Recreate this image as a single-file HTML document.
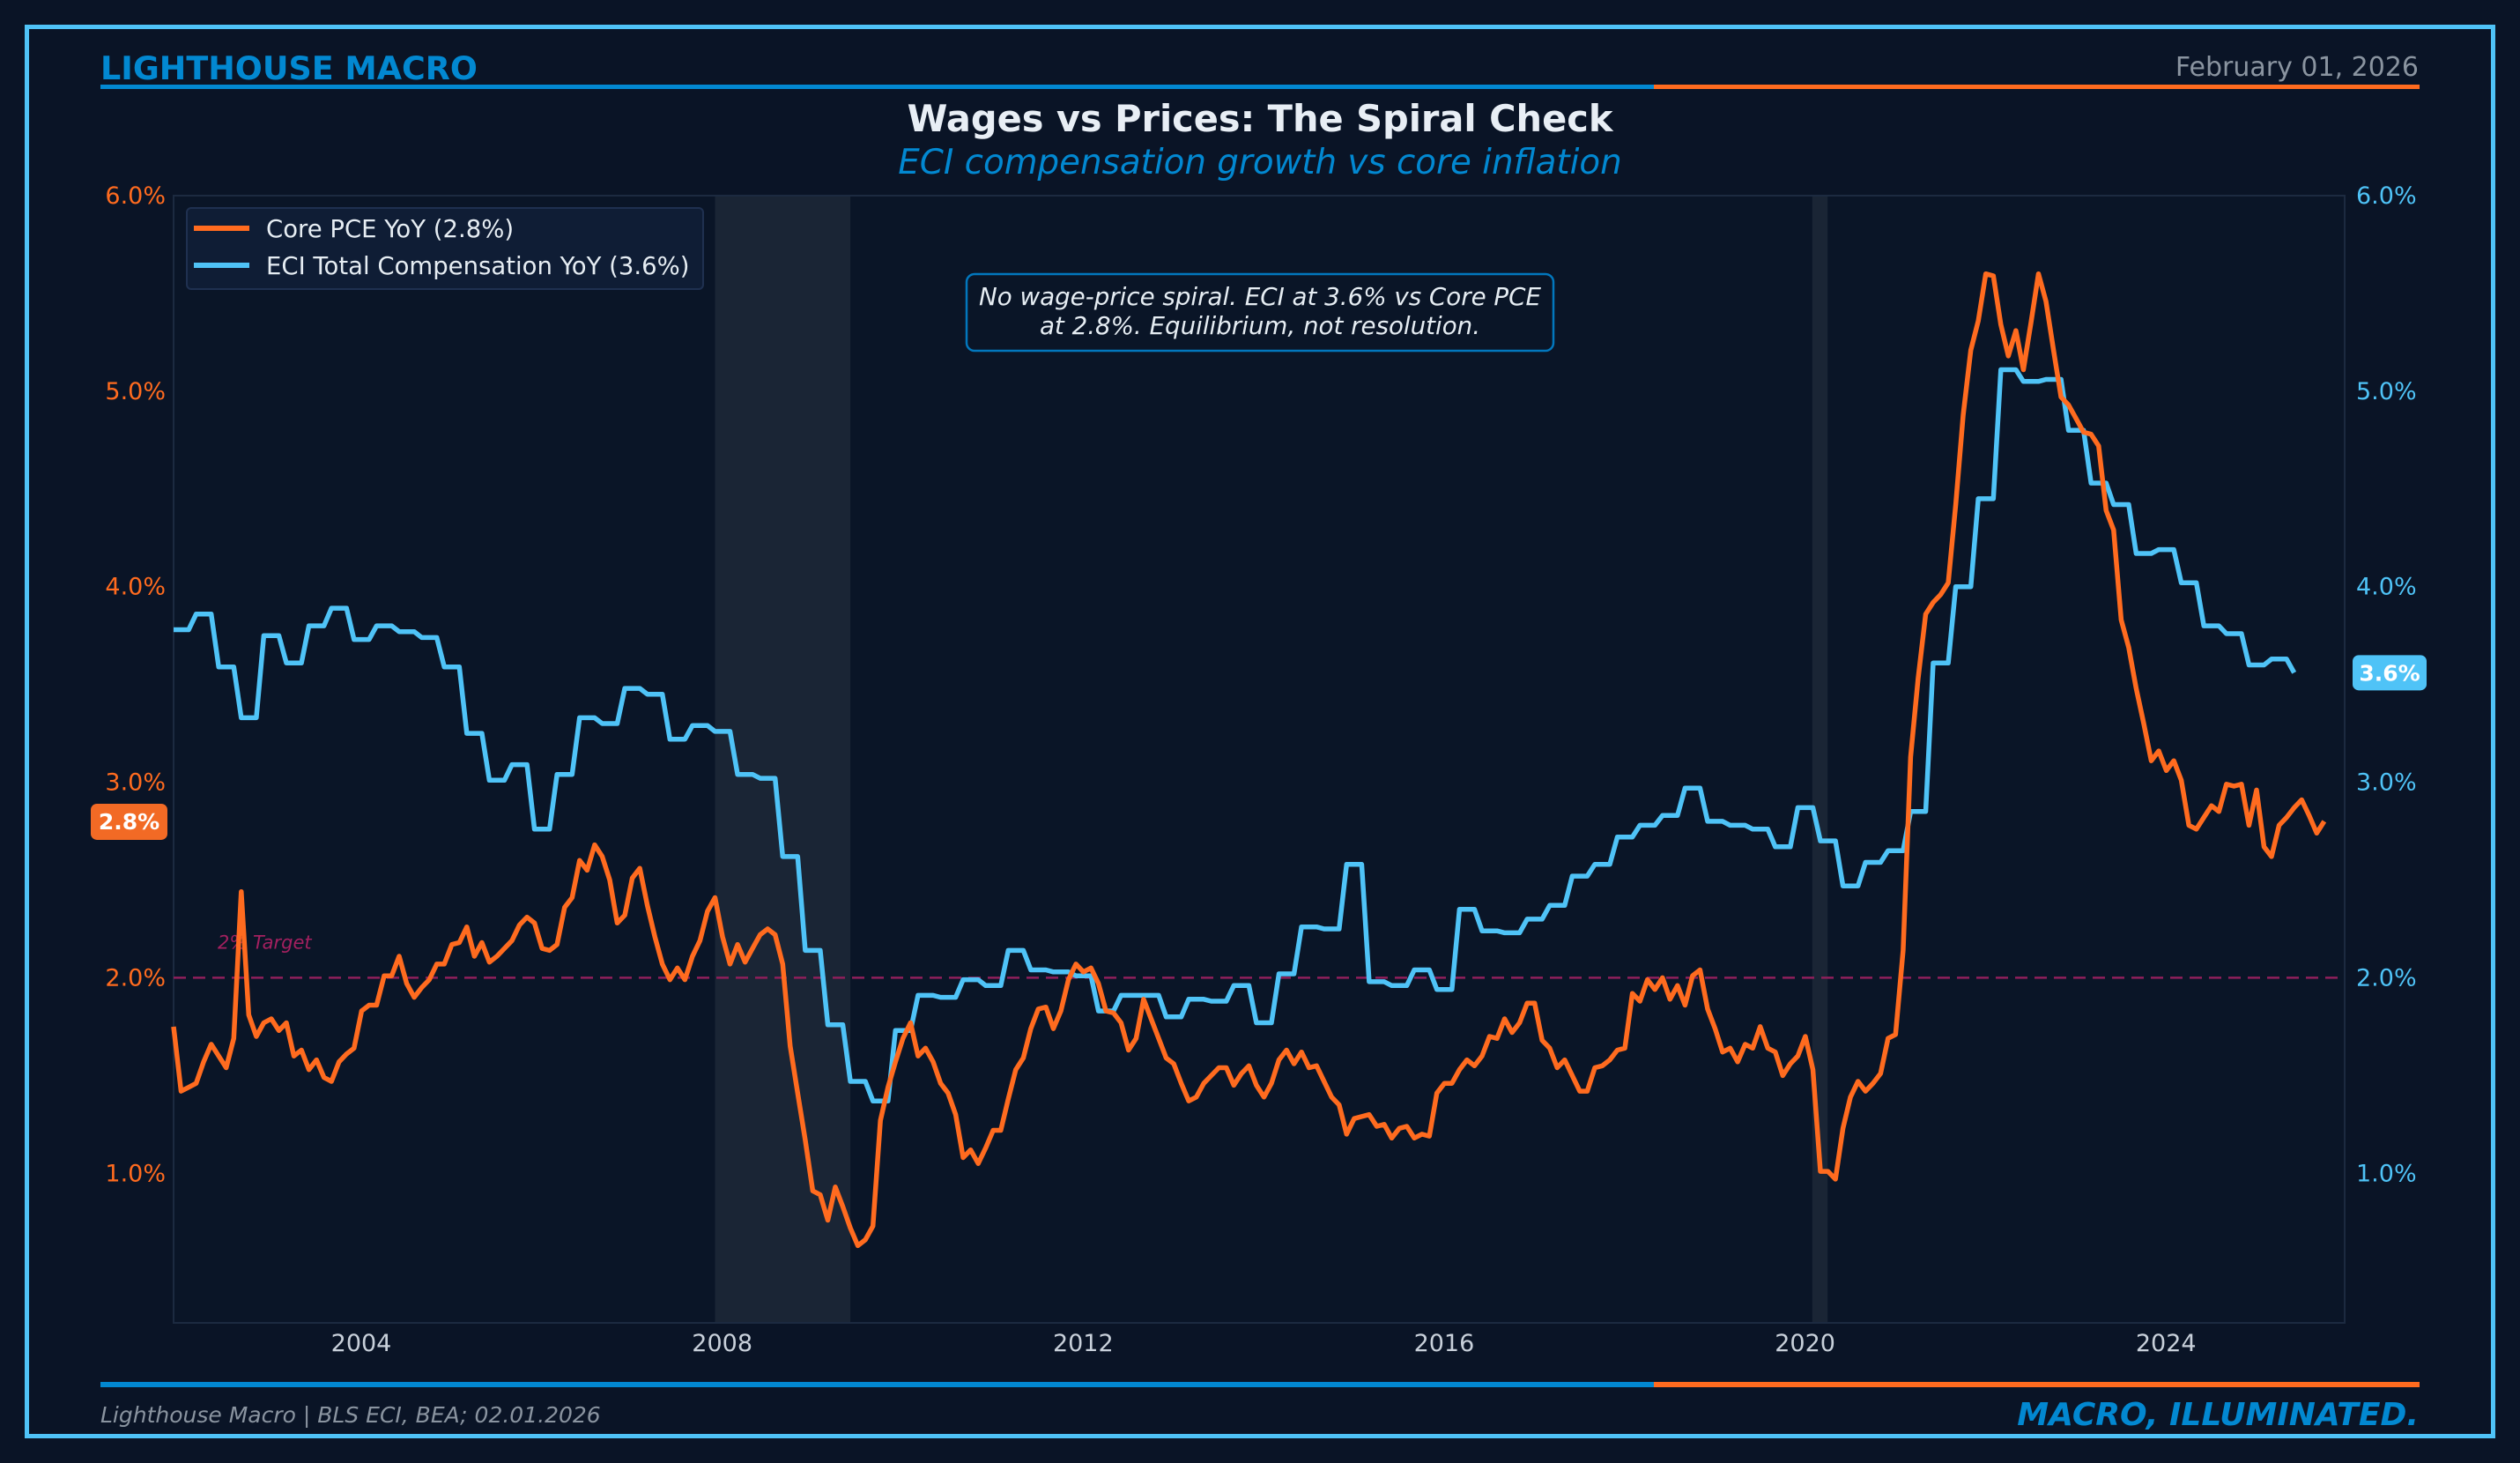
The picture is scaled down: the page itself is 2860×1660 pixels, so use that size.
<!DOCTYPE html>
<html><head><meta charset="utf-8"><title>Wages vs Prices</title>
<style>
html,body{margin:0;padding:0;background:#0a1426;}
svg{display:block;}
text{font-family:"DejaVu Sans","Liberation Sans",sans-serif;}
</style></head>
<body>
<svg id="chart" width="2860" height="1660" viewBox="0 0 2860 1660" xmlns="http://www.w3.org/2000/svg">
<rect x="0" y="0" width="2860" height="1660" fill="#0a1426"/>
<rect x="30.5" y="30.5" width="2799" height="1599" fill="none" stroke="#4fc3f7" stroke-width="5"/>
<text x="114" y="90" font-size="36.5" font-weight="bold" fill="#0288d1">LIGHTHOUSE MACRO</text>
<text x="2745" y="86" font-size="30" fill="#8a94a0" text-anchor="end">February 01, 2026</text>
<rect x="114" y="96" width="1763" height="5" fill="#0288d1"/>
<rect x="1877" y="96" width="869" height="5" fill="#ff6b1f"/>
<text x="1430" y="149" font-size="41.5" font-weight="bold" fill="#e8eef5" text-anchor="middle">Wages vs Prices: The Spiral Check</text>
<text x="1430" y="197" font-size="38.8" font-style="italic" fill="#0288d1" text-anchor="middle">ECI compensation growth vs core inflation</text>
<g id="plot"></g>
<rect x="114" y="1568" width="1763" height="6" fill="#0288d1"/>
<rect x="1877" y="1568" width="869" height="6" fill="#ff6b1f"/>
<text x="114" y="1614" font-size="25" font-style="italic" fill="#8a94a0">Lighthouse Macro | BLS ECI, BEA; 02.01.2026</text>
<text x="2745" y="1617" font-size="36" font-style="italic" font-weight="bold" fill="#0288d1" text-anchor="end">MACRO, ILLUMINATED.</text>
</svg>
<script>
// ---- data ----
const startYear = 2001.92;
const corePCE = [1.75,1.42,1.44,1.46,1.57,1.66,1.60,1.54,1.69,2.44,1.81,1.70,1.77,1.79,1.73,1.77,1.60,1.63,1.53,1.58,1.49,1.47,1.57,1.61,
1.64,1.83,1.86,1.86,2.01,2.01,2.11,1.97,1.90,1.95,1.99,2.07,2.07,2.17,2.18,2.26,2.11,2.18,2.08,2.11,2.15,2.19,2.27,2.31,
2.28,2.15,2.14,2.17,2.36,2.41,2.60,2.55,2.68,2.62,2.50,2.28,2.32,2.51,2.56,2.37,2.21,2.07,1.99,2.05,1.99,2.11,2.19,2.34,
2.41,2.21,2.07,2.17,2.08,2.15,2.22,2.25,2.22,2.07,1.65,1.41,1.17,0.91,0.89,0.76,0.93,0.83,0.72,0.63,0.66,0.73,
1.27,1.44,1.57,1.69,1.77,1.60,1.64,1.57,1.46,1.41,1.30,1.08,1.12,1.05,1.13,1.22,1.22,1.38,1.53,1.59,1.74,1.84,1.85,1.74,1.83,1.99,2.07,2.03,2.05,1.97,1.83,1.82,1.77,1.63,1.69,1.89,1.79,1.69,1.59,1.56,1.46,1.37,1.39,1.46,1.50,1.54,1.54,1.45,1.51,1.55,1.45,1.39,1.46,1.58,1.63,1.56,1.62,1.54,1.55,1.47,1.39,1.35,1.20,1.28,1.29,1.30,1.24,1.25,1.18,1.23,1.24,1.18,1.20,1.19,1.41,1.46,1.46,1.53,1.58,1.55,1.60,1.70,1.69,1.79,1.72,1.77,1.87,1.87,1.68,1.64,1.54,1.58,1.50,1.42,1.42,1.54,1.55,1.58,1.63,1.64,1.92,1.88,1.99,1.94,2.00,1.89,1.96,1.86,2.01,2.04,1.84,
1.74,1.62,1.64,1.57,1.66,1.64,1.75,1.64,1.62,1.50,1.56,1.60,1.70,1.53,1.01,1.01,0.97,1.23,1.39,1.47,1.42,1.46,1.51,1.69,1.71,2.14,3.13,3.53,3.86,3.92,3.96,4.02,4.42,4.88,5.21,5.36,5.60,5.59,5.34,5.18,5.31,5.11,5.35,5.60,5.46,5.21,4.97,4.93,4.86,4.79,4.78,4.72,4.39,4.29,3.83,3.69,3.48,3.30,3.11,3.16,3.06,3.11,3.01,2.78,2.76,2.82,2.88,2.85,2.99,2.98,2.99,2.78,2.96,2.67,2.62,2.78,2.82,2.87,2.91,2.83,2.74,2.80];
const eciQuarterly = [3.78,3.86,3.59,3.33,3.75,3.61,3.80,3.89,3.73,3.80,3.77,3.74,3.59,3.25,3.01,3.09,2.76,3.04,3.33,3.30,3.48,3.45,3.22,3.29,
3.26,3.04,3.02,2.62,2.14,1.76,1.47,1.37,1.73,1.91,1.90,1.99,1.96,2.14,2.04,2.03,2.01,1.83,1.91,1.91,1.80,1.89,1.88,1.96,
1.77,2.02,2.26,2.25,2.58,1.98,1.96,2.04,1.94,2.35,2.24,2.23,2.30,2.37,2.52,2.58,2.72,2.78,2.83,2.97,2.80,2.78,2.76,2.67,
2.87,2.70,2.47,2.59,2.65,2.85,3.61,4.00,4.45,5.11,5.05,5.06,4.80,4.53,4.42,4.17,4.19,4.02,3.80,3.76,3.60,3.63,3.56];
const recessions = [[2007.92,2009.42],[2020.08,2020.25]];
const yTicks = [1.0,2.0,3.0,4.0,5.0,6.0];
const yTickLabels = ["1.0%","2.0%","3.0%","4.0%","5.0%","6.0%"];
const xTicks = [2004,2008,2012,2016,2020,2024];
const xTickLabels = ["2004","2008","2012","2016","2020","2024"];
const targetValue = 2.0;
const pceLatestLabel = "2.8%";
const eciLatestLabel = "3.6%";

// ---- scales ----
const PL=197, PR=2661, PT=222, PB=1501;
const X0=2001.92, X1=2025.98, Y0=0.235, Y1=6.0;
function xs(t){return PL+(t-X0)/(X1-X0)*(PR-PL);}
function ys(v){return PT+(Y1-v)/(Y1-Y0)*(PB-PT);}
function mt(m){return startYear+m/12;}

const NS="http://www.w3.org/2000/svg";
const plot=document.getElementById('plot');
function mk(tag,attrs,parent){const e=document.createElementNS(NS,tag);for(const k in attrs)e.setAttribute(k,attrs[k]);(parent||plot).appendChild(e);return e;}

let el=mk('rect',{x:PL,y:PT,width:PR-PL,height:PB-PT,fill:'#0a1527',stroke:'#1c2a40','stroke-width':2});



recessions.forEach((r,i)=>{
  const e=mk('rect',{x:xs(r[0]),y:PT+1,width:xs(r[1])-xs(r[0]),height:PB-PT-2,fill:'#1a2535'});
  
  
});

el=mk('line',{x1:PL,x2:PR,y1:ys(targetValue),y2:ys(targetValue),stroke:'#8e1f5b','stroke-width':2.5,'stroke-dasharray':'14 8'});


el=mk('text',{x:247,y:ys(targetValue)-33,'font-size':21,'font-style':'italic',fill:'#a3205f'});
el.textContent='2% Target';



yTicks.forEach((v,i)=>{
  let t=mk('text',{x:188,y:ys(v)+9,'font-size':27,fill:'#ff6b1f','text-anchor':'end'});
  t.textContent=yTickLabels[i];
  
  
  let t2=mk('text',{x:2674,y:ys(v)+9,'font-size':27,fill:'#4fc3f7'});
  t2.textContent=yTickLabels[i];
  
  
});
xTicks.forEach((yr,i)=>{
  let t=mk('text',{x:xs(yr),y:1533,'font-size':27,fill:'#c8d0da','text-anchor':'middle'});
  t.textContent=xTickLabels[i];
  
  
});

const eciPts=[];
eciQuarterly.forEach((v,q)=>{
  const n=(q===eciQuarterly.length-1)?1:3;
  for(let k=0;k<n;k++) eciPts.push([xs(mt(q*3+k)),ys(v)]);
});
el=mk('polyline',{points:eciPts.map(p=>p[0].toFixed(1)+','+p[1].toFixed(1)).join(' '),fill:'none',stroke:'#4fc3f7','stroke-width':5.5,'stroke-linejoin':'round'});



const pcePts=corePCE.map((v,m)=>xs(mt(m)).toFixed(1)+','+ys(v).toFixed(1)).join(' ');
el=mk('polyline',{points:pcePts,fill:'none',stroke:'#ff6b1f','stroke-width':5.5,'stroke-linejoin':'round'});



const pceLast=corePCE[corePCE.length-1];
el=mk('rect',{x:103,y:ys(pceLast)-20,width:87,height:41,rx:7,fill:'#f26a25'});


el=mk('text',{x:146.5,y:ys(pceLast)+9,'font-size':25,'font-weight':'bold',fill:'#ffffff','text-anchor':'middle'});
el.textContent=pceLatestLabel;


const eciLast=eciQuarterly[eciQuarterly.length-1];
el=mk('rect',{x:2670,y:ys(eciLast)-20,width:84,height:40,rx:7,fill:'#4fc3f7'});


el=mk('text',{x:2712,y:ys(eciLast)+9,'font-size':25,'font-weight':'bold',fill:'#ffffff','text-anchor':'middle'});
el.textContent=eciLatestLabel;



const lg=mk('g',{});


el=mk('rect',{x:212,y:236,width:586,height:92,rx:5,fill:'#0f1d35',stroke:'#1f3050','stroke-width':2},lg);


el=mk('line',{x1:220,x2:283,y1:259,y2:259,stroke:'#ff6b1f','stroke-width':6},lg);


el=mk('text',{x:302,y:269,'font-size':27.5,fill:'#e6edf3'},lg);
el.textContent='Core PCE YoY (2.8%)';


el=mk('line',{x1:220,x2:283,y1:301,y2:301,stroke:'#4fc3f7','stroke-width':6},lg);


el=mk('text',{x:302,y:311,'font-size':27.5,fill:'#e6edf3'},lg);
el.textContent='ECI Total Compensation YoY (3.6%)';



el=mk('rect',{x:1097,y:311,width:666,height:87,rx:9,fill:'#0a1527',stroke:'#0277bd','stroke-width':2.5});


el=mk('text',{x:1430,y:346,'font-size':27.7,'font-style':'italic',fill:'#e6edf3','text-anchor':'middle'});
el.textContent='No wage-price spiral. ECI at 3.6% vs Core PCE';


el=mk('text',{x:1430,y:379,'font-size':27.7,'font-style':'italic',fill:'#e6edf3','text-anchor':'middle'});
el.textContent='at 2.8%. Equilibrium, not resolution.';


</script>
</body></html>
